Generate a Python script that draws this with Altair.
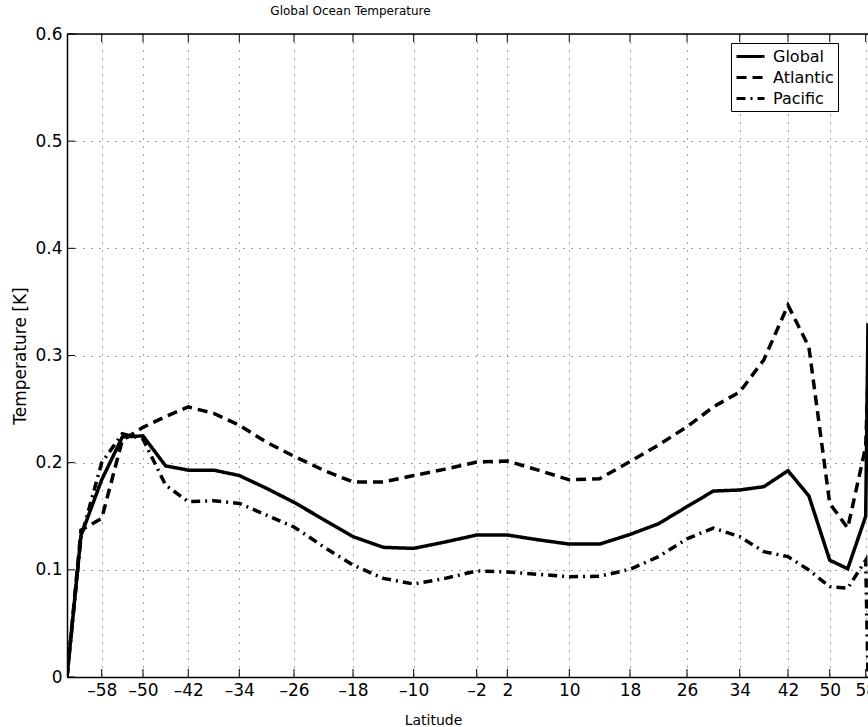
import altair as alt
import numpy as np
import pandas as pd

# Latitudes of the model grid (degrees)
LAT = [-66, -62, -58, -54, -50, -46, -42, -38, -34, -30, -26, -22, -18, -14, -10, -6,
       -2, 2, 6, 10, 14, 18, 22, 26, 30, 34, 38, 42, 46, 50, 54, 58, 62]

GLOBAL = [0.0, 0.132, 0.184, 0.224, 0.225, 0.197, 0.193, 0.193, 0.188, 0.176, 0.163,
          0.147, 0.131, 0.121, 0.120, 0.126, 0.1325, 0.1325, 0.128, 0.124, 0.124, 0.133,
          0.143, 0.159, 0.1735, 0.1745, 0.1776, 0.1925, 0.169, 0.109, 0.101, 0.150, 0.33]

ATLANTIC = [0.0, 0.137, 0.148, 0.221, 0.233, 0.243, 0.252, 0.246, 0.235, 0.219, 0.206,
            0.193, 0.182, 0.182, 0.188, 0.194, 0.2006, 0.2015, 0.193, 0.184, 0.185, 0.201,
            0.2165, 0.2335, 0.252, 0.266, 0.296, 0.347, 0.308, 0.162, 0.139, 0.215, 0.28]

PACIFIC = [0.0, 0.13, 0.2, 0.227, 0.222, 0.179, 0.1636, 0.1645, 0.162, 0.151, 0.140,
           0.1216, 0.1045, 0.092, 0.0868, 0.092, 0.099, 0.098, 0.0958, 0.0936, 0.094, 0.1005,
           0.1123, 0.129, 0.139, 0.131, 0.117, 0.1123, 0.0998, 0.0843, 0.0828, 0.109, 0.0]

SERIES = ["Global", "Atlantic", "Pacific"]

# Area-weighted axis coordinate of the latitude marks
AXIS_LAT = [-66, -62, -58, -50, -42, -34, -26, -18, -10, -2, 2, 10, 18, 26, 34, 42, 50, 58, 62]
AXIS_POS = [-0.9637, -0.932, -0.885, -0.7914, -0.6887, -0.573, -0.449, -0.3152, -0.1776,
            -0.0347, 0.0347, 0.1753, 0.3129, 0.4422, 0.5617, 0.6712, 0.7658, 0.8474, 0.8526]

TICK_LAT = [-58, -50, -42, -34, -26, -18, -10, -2, 2, 10, 18, 26, 34, 42, 50, 58]
Y_TICKS = [0, 0.1, 0.2, 0.3, 0.4, 0.5, 0.6]

FONT = "DejaVu Sans"
W, H = 801, 643


def to_axis(lat):
    return np.interp(lat, AXIS_LAT, AXIS_POS)


rows = []
for name, vals in zip(SERIES, [GLOBAL, ATLANTIC, PACIFIC]):
    for la, v in zip(LAT, vals):
        rows.append({"series": name, "lat": la, "u": float(to_axis(la)), "value": v})
df = pd.DataFrame(rows)

tick_u = [float(to_axis(t)) for t in TICK_LAT]
tick_lbl = [("\u2013" + str(-t)) if t < 0 else str(t) for t in TICK_LAT]

label_expr = "'" + tick_lbl[-1] + "'"
for i in reversed(range(len(tick_u) - 1)):
    mid = (tick_u[i] + tick_u[i + 1]) / 2
    label_expr = f"datum.value < {mid:.5f} ? '{tick_lbl[i]}' : ({label_expr})"

xdom = [AXIS_POS[0], AXIS_POS[-1]]
ydom = [0, 0.6]

x_enc = alt.X(
    "u:Q",
    scale=alt.Scale(domain=xdom, nice=False, zero=False),
    axis=alt.Axis(
        values=tick_u, labelExpr=label_expr, title="Latitude",
        grid=True, gridDash=[1, 7], gridColor="#444", gridWidth=1,
        ticks=False, labelPadding=5, labelFontSize=17,
        domainColor="black", domainWidth=1.5,
        titleFontSize=14, titleFontWeight="normal",
        titleX=366, titleY=47, titleBaseline="alphabetic", titleAnchor="start", titleAlign="center",
    ),
)
y_enc = alt.Y(
    "value:Q",
    scale=alt.Scale(domain=ydom, nice=False, zero=True),
    axis=alt.Axis(
        values=Y_TICKS, labelExpr="datum.value == 0 ? '0' : format(datum.value, '.1f')",
        title="Temperature [K]",
        grid=True, gridDash=[1, 7], gridColor="#444", gridWidth=1,
        ticks=False, labelPadding=5, labelFontSize=17,
        domainColor="black", domainWidth=1.5,
        titleFontSize=17, titleFontWeight="normal",
        titleX=-47, titleY=H / 2, titleAngle=270, titleAlign="center", titleBaseline="middle",
    ),
)

lines = alt.Chart(df).mark_line(clip=True, strokeWidth=3.5, color="black").encode(
    x=x_enc,
    y=y_enc,
    strokeDash=alt.StrokeDash(
        "series:N",
        scale=alt.Scale(domain=SERIES, range=[[1, 0], [10, 6], [9, 5, 2, 5]]),
        legend=alt.Legend(
            title=None, orient="none", legendX=664, legendY=9,
            strokeColor="black", fillColor="white", padding=4, cornerRadius=0,
            symbolType="M-1.75,0H1.75", symbolSize=256, symbolStrokeWidth=3,
            symbolOffset=6, symbolFillColor="transparent",
            symbolStrokeColor="black", labelFont=FONT, labelFontSize=16,
            labelColor="black", labelOffset=13, rowPadding=3,
        ),
    ),
)

xt = pd.DataFrame({"u": tick_u})
bottom_ticks = alt.Chart(xt).mark_rule(color="black", strokeWidth=1).encode(
    x="u:Q", y=alt.value(H), y2=alt.value(H - 8))
top_ticks = alt.Chart(xt).mark_rule(color="black", strokeWidth=1).encode(
    x="u:Q", y=alt.value(0), y2=alt.value(8))
yt = pd.DataFrame({"value": Y_TICKS})
left_ticks = alt.Chart(yt).mark_rule(color="black", strokeWidth=1).encode(
    y="value:Q", x=alt.value(0), x2=alt.value(8))
top_border = alt.Chart(pd.DataFrame({"k": [0]})).mark_rule(color="black", strokeWidth=1.5).encode(
    x=alt.value(0), x2=alt.value(W), y=alt.value(0))

chart = alt.layer(lines, bottom_ticks, top_ticks, left_ticks, top_border).properties(
    width=W, height=H,
    title=alt.TitleParams(
        "Global Ocean Temperature", font=FONT, fontSize=12, fontWeight="normal",
        color="black", anchor="middle", dx=-117, offset=7,
    ),
    padding={"left": 67, "top": 34, "right": 0, "bottom": 50},
    autosize=alt.AutoSizeParams(type="none"),
).configure_view(stroke="transparent").configure(font=FONT).configure_axis(
    labelFont=FONT, titleFont=FONT, labelColor="black", titleColor="black"
)

chart.save("out.html", embed_options={"renderer": "svg", "actions": False})
